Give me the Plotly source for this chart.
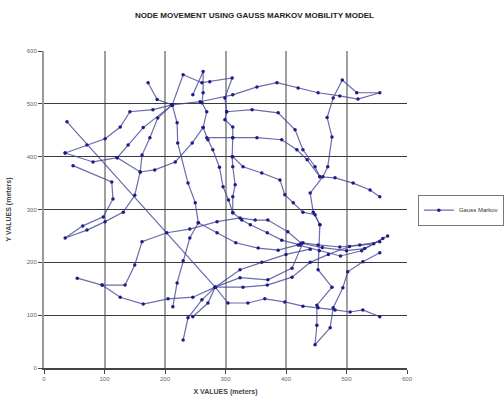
import plotly.graph_objects as go

# Node positions (meters), as path pieces
path_a = [(38, 466), (283, 153), (304, 123), (337, 123), (365, 131), (398, 125), (428, 117),
          (453, 114), (481, 110), (506, 106), (527, 110), (555, 97)]
path_b = [(55, 170), (96, 157), (126, 134), (164, 121), (205, 131), (246, 134), (283, 153),
          (324, 171), (370, 167), (410, 189), (428, 237), (453, 233), (489, 229), (522, 233), (555, 239)]
path_c = [(96, 157), (134, 157), (150, 195), (162, 239), (203, 256), (241, 263), (286, 277),
          (324, 284), (349, 280), (370, 280), (403, 258), (425, 236), (460, 228), (500, 222),
          (530, 226), (568, 250)]
path_d = [(35, 407), (71, 422), (101, 434), (126, 456), (142, 485), (180, 489), (212, 498)]
path_e = [(35, 407), (81, 390), (121, 398), (159, 371), (183, 375), (217, 390), (245, 426), (263, 455)]
path_f = [(48, 383), (112, 352), (114, 320), (98, 286), (64, 269), (35, 246), (71, 261), (101, 277),
          (131, 295), (150, 327), (159, 371), (162, 403), (175, 436), (188, 473), (212, 498)]
path_g = [(212, 498), (164, 455), (139, 422), (121, 398)]
path_h = [(212, 498), (220, 464), (221, 426), (238, 350), (250, 313), (255, 275), (241, 246),
          (230, 203), (220, 161), (213, 116)]
path_i = [(255, 275), (286, 256), (317, 237), (354, 227), (387, 223), (420, 233), (455, 222),
          (490, 212), (525, 222), (560, 245)]
path_j = [(212, 498), (258, 504), (312, 517), (352, 532), (385, 540), (420, 530), (453, 521),
          (489, 515), (519, 509), (555, 521), (517, 521), (493, 545), (478, 511), (468, 474),
          (476, 437), (469, 381), (461, 362), (440, 331), (445, 295), (456, 271), (453, 186),
          (476, 153), (451, 119), (451, 81), (448, 44), (473, 76), (478, 114), (494, 152),
          (502, 182), (527, 201), (555, 218)]
path_k = [(172, 540), (187, 508), (212, 498)]
path_l = [(212, 498), (230, 555), (261, 540), (274, 542), (311, 549), (299, 511), (302, 485),
          (299, 470), (312, 456), (312, 436), (311, 400), (312, 381), (316, 347), (312, 324),
          (312, 294), (327, 280), (341, 271), (369, 256), (393, 242), (423, 233)]
path_m = [(246, 517), (263, 561), (263, 521), (261, 502), (269, 485), (263, 455), (271, 432),
          (279, 413), (290, 380), (296, 343), (305, 318), (312, 294)]
path_n = [(302, 485), (344, 489), (387, 483), (415, 451), (428, 413), (448, 381), (456, 362)]
path_o = [(269, 436), (312, 436), (352, 436), (393, 432), (418, 413), (435, 394), (456, 362),
          (481, 360), (511, 350), (539, 337), (555, 324)]
path_p = [(312, 400), (329, 381), (360, 369), (390, 356), (398, 328), (412, 313), (428, 295),
          (448, 290), (456, 271)]
path_q = [(230, 53), (238, 95), (261, 129), (283, 153), (329, 153), (369, 157), (410, 172),
          (440, 200), (470, 215), (505, 230), (545, 235)]
path_r = [(246, 97), (271, 123), (283, 153), (324, 186), (360, 200), (400, 215), (440, 225)]

paths = [path_a, path_b, path_c, path_d, path_e, path_f, path_g, path_h, path_i,
         path_j, path_k, path_l, path_m, path_n, path_o, path_p, path_q, path_r]

xs, ys = [], []
for p in paths:
    for px, py in p:
        xs.append(px)
        ys.append(py)
    xs.append(None)
    ys.append(None)

x_ticks = [0, 100, 200, 300, 400, 500, 600]
y_ticks = [0, 100, 200, 300, 400, 500, 600]

FONT = "Liberation Sans, Arial, sans-serif"

fig = go.Figure()
fig.add_trace(go.Scatter(
    x=xs, y=ys, mode="lines+markers", name="Gauss Markov",
    line=dict(color="rgba(70,70,150,0.8)", width=1.2),
    marker=dict(color="#1c1c8a", size=3.5),
    connectgaps=False,
))

fig.update_layout(
    width=504, height=403,
    margin=dict(l=44, r=97, t=51, b=35, autoexpand=False),
    paper_bgcolor="white", plot_bgcolor="white",
    title=dict(text="<b>NODE MOVEMENT USING GAUSS MARKOV MOBILITY MODEL</b>",
               x=0.505, xanchor="center", y=0.962, yanchor="middle",
               font=dict(family=FONT, size=8, color="#222")),
    showlegend=True,
    legend=dict(x=1.03, xanchor="left", y=0.498, yanchor="middle",
                bordercolor="#777", borderwidth=1, bgcolor="white",
                font=dict(family=FONT, size=6, color="#333"),
                itemwidth=30, tracegroupgap=0),
    font=dict(family=FONT, size=7, color="#555"),
)
fig.update_xaxes(
    range=[0, 600], tickvals=x_ticks, ticktext=[str(v) for v in x_ticks],
    showgrid=True, gridcolor="#a0a0a0", gridwidth=2,
    showline=True, linecolor="#444", linewidth=1.5, mirror=False,
    ticks="outside", ticklen=4, tickcolor="#444",
    tickfont=dict(family=FONT, size=6, color="#666"),
    title=dict(text="<b>X VALUES (meters)</b>", standoff=8,
               font=dict(family=FONT, size=7, color="#444")),
    zeroline=False, automargin=False,
)
fig.update_yaxes(
    range=[0, 600], tickvals=y_ticks, ticktext=[str(v) for v in y_ticks],
    showgrid=True, gridcolor="#3a3a3a", gridwidth=1.2,
    showline=True, linecolor="#999", linewidth=2, mirror=False,
    ticks="outside", ticklen=4, tickcolor="#444",
    tickfont=dict(family=FONT, size=6, color="#666"),
    title=dict(text="<b>Y VALUES (meters)</b>", standoff=14,
               font=dict(family=FONT, size=7, color="#444")),
    zeroline=False, automargin=False,
)

fig.write_html("out.html", config={"displayModeBar": False},
               post_script="document.body.style.margin='0';document.body.style.padding='0';")
